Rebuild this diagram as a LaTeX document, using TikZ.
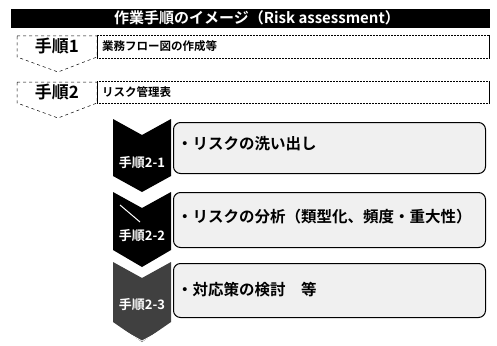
\documentclass[tikz,border=0pt]{standalone}
\usepackage{fontspec}
\setmainfont{Noto Sans CJK JP}[BoldFont={Noto Sans CJK JP Bold}]
\begin{document}
\begin{tikzpicture}[x=1pt,y=-1pt,
  titlebar/.style={fill=black,draw=black},
  rowbox/.style={draw=black,densely dotted,line width=0.5pt},
  pent/.style={draw=black,dashed,line width=0.5pt},
  stepbox/.style={draw=black,line width=1pt,rounded corners=7pt,fill=gray!12},
  chevlabel/.style={text=white,font=\bfseries\fontsize{13}{15}\selectfont,inner sep=0pt},
  rowlabel/.style={font=\bfseries\fontsize{17}{19}\selectfont,inner sep=0pt},
  rowtext/.style={font=\bfseries\fontsize{11.5}{13}\selectfont,inner sep=0pt,anchor=west},
  boxtext/.style={font=\bfseries\fontsize{15.5}{17}\selectfont,inner sep=0pt,anchor=west}
]
\useasboundingbox (0,0) rectangle (497,345);
\fill[white] (0,0) rectangle (497,345);
% title
\node[titlebar,minimum width=478pt,minimum height=18pt,inner sep=0pt,anchor=north west] (title) at (11,9) {};
\node[text=white,font=\bfseries\fontsize{15}{17}\selectfont,inner sep=0pt] (titletext) at (257,18) {作業手順のイメージ（Risk assessment）};
% row 1
\draw[pent] (17,36) -- (97,36) -- (97,57) -- (58,72) -- (17,57) -- cycle;
\node[rowlabel] (r1) at (57,46) {手順1};
\node[rowbox,minimum width=392pt,minimum height=23pt,inner sep=0pt,anchor=north west] (b1) at (97,35) {};
\draw[line width=1pt] (b1.north east) -- (b1.south east);
\draw[line width=0.8pt] (b1.north west) -- (b1.south west);
\node[rowtext] (t1) at (102,46) {業務フロー図の作成等};
% row 2
\draw[pent] (17,82) -- (97,82) -- (97,103) -- (58,118) -- (17,103) -- cycle;
\node[rowlabel] (r2) at (57,92) {手順2};
\node[rowbox,minimum width=392pt,minimum height=22pt,inner sep=0pt,anchor=north west] (b2) at (97,81) {};
\draw[line width=1pt] (b2.north east) -- (b2.south east);
\draw[line width=0.8pt] (b2.north west) -- (b2.south west);
\node[rowtext] (t2) at (102,92) {リスク管理表};
% step boxes
\node[stepbox,minimum width=312pt,minimum height=51pt,inner sep=0pt,anchor=north west] (s1) at (173,122) {};
\node[boxtext] (s1t) at (177,144) {・リスクの洗い出し};
\node[stepbox,minimum width=312pt,minimum height=55pt,inner sep=0pt,anchor=north west] (s2) at (173,192) {};
\node[boxtext] (s2t) at (177,217) {・リスクの分析（類型化、頻度・重大性）};
\node[stepbox,minimum width=312pt,minimum height=54pt,inner sep=0pt,anchor=north west] (s3) at (173,263) {};
\node[boxtext] (s3t) at (177,290) {・対応策の検討　等};
% chevrons
\fill[black] (113,119) -- (142,135) -- (171,119) -- (171,176) -- (142,192) -- (113,176) -- cycle;
\node[chevlabel] (c1) at (142,163) {手順2-1};
\fill[black] (113,192) -- (142,208) -- (171,192) -- (171,250) -- (142,267) -- (113,250) -- cycle;
\draw[white,line width=1pt] (120,205) -- (140,222);
\node[chevlabel] (c2) at (142,236) {手順2-2};
\fill[black!75] (113,262) -- (142,278) -- (171,262) -- (171,322) -- (142,342) -- (113,322) -- cycle;
\draw[white,line width=0.8pt] (117,327) -- (142,341) -- (168,327);
\node[chevlabel] (c3) at (142,305) {手順2-3};
\end{tikzpicture}
\end{document}
